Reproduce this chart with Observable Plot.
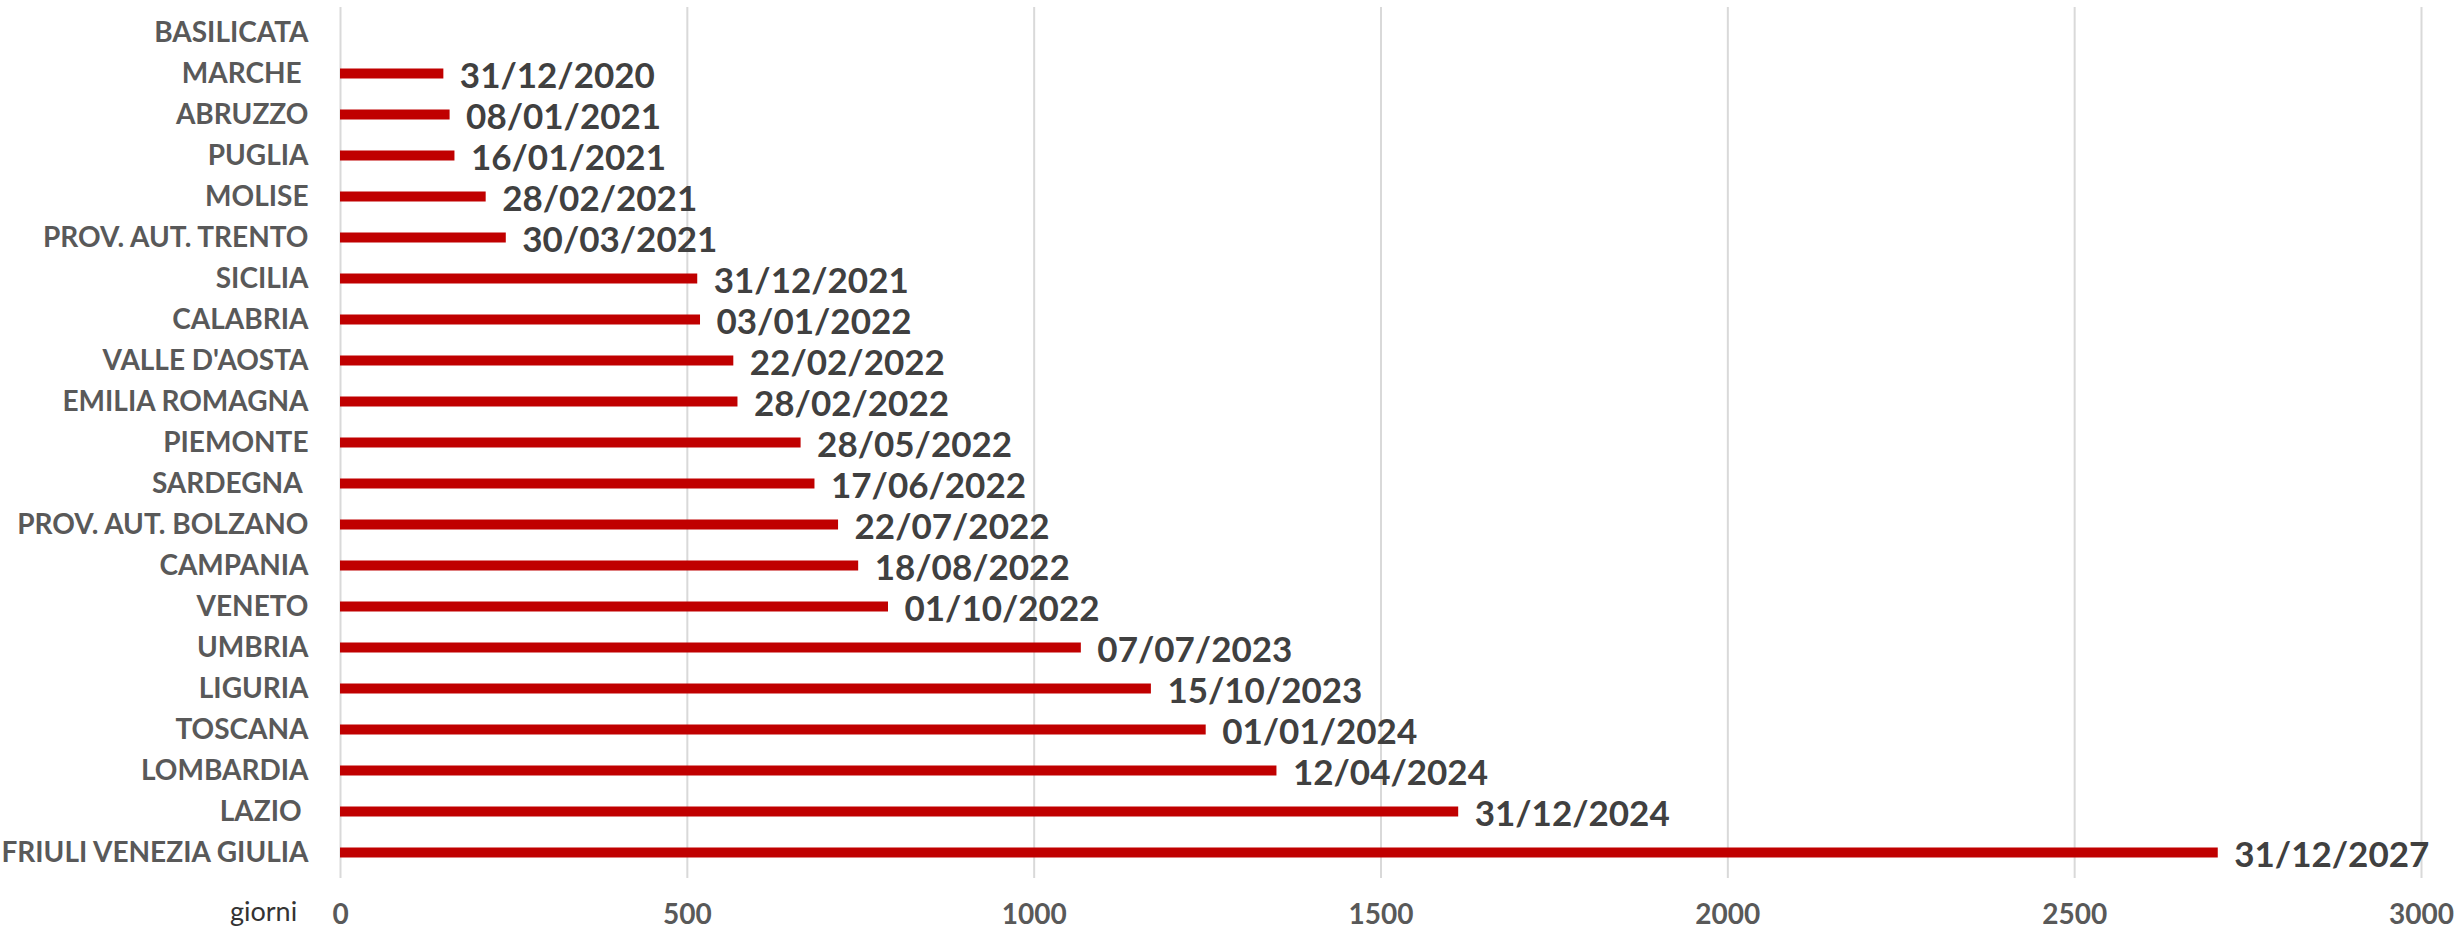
<!DOCTYPE html>
<html>
<head>
<meta charset="utf-8">
<script src="https://cdn.jsdelivr.net/npm/d3@7"></script>
<script src="https://cdn.jsdelivr.net/npm/@observablehq/plot@0.6"></script>
<style>
  html, body { margin: 0; padding: 0; background: #ffffff; }
  #chart svg { display: block; }
</style>
</head>
<body>
<div id="chart"></div>
<script>
const regions = [
  "BASILICATA", "MARCHE\u00a0", "ABRUZZO", "PUGLIA", "MOLISE", "PROV. AUT. TRENTO",
  "SICILIA", "CALABRIA", "VALLE D'AOSTA", "EMILIA ROMAGNA", "PIEMONTE", "SARDEGNA\u00a0",
  "PROV. AUT. BOLZANO", "CAMPANIA", "VENETO", "UMBRIA", "LIGURIA", "TOSCANA",
  "LOMBARDIA", "LAZIO\u00a0", "FRIULI VENEZIA GIULIA"
];
const days = [
  null, 149, 158, 165, 210, 239,
  515, 519, 567, 573, 664, 684,
  718, 747, 790, 1068, 1169, 1248,
  1350, 1612, 2707
];
const dates = [
  "", "31/12/2020", "08/01/2021", "16/01/2021", "28/02/2021", "30/03/2021",
  "31/12/2021", "03/01/2022", "22/02/2022", "28/02/2022", "28/05/2022", "17/06/2022",
  "22/07/2022", "18/08/2022", "01/10/2022", "07/07/2023", "15/10/2023", "01/01/2024",
  "12/04/2024", "31/12/2024", "31/12/2027"
];
const xTicks = [0, 500, 1000, 1500, 2000, 2500, 3000];
const axisTitle = ["giorni"];

const data = regions.map((r, i) => ({region: r, days: days[i], date: dates[i]}));
const bars = data.filter(d => d.days != null);

const FONT = "Lato, 'Open Sans', sans-serif";

const chart = Plot.plot({
  width: 2455,
  height: 931,
  marginLeft: 340,
  marginRight: 34,
  marginTop: 7,
  marginBottom: 53,
  style: {fontFamily: FONT, background: "#ffffff"},
  x: {domain: [0, 3000]},
  y: {domain: regions, padding: 0},
  marks: [
    Plot.gridX(xTicks, {stroke: "#d9d9d9", strokeOpacity: 1, strokeWidth: 2}),
    Plot.barX(bars, {x: "days", y: "region", fill: "#C00000", insetTop: 15.5, insetBottom: 15.5}),
    Plot.text(bars, {
      x: "days", y: "region", text: "date", textAnchor: "start", dx: 16, dy: 3,
      fontSize: 35, fontWeight: "bold", fill: "#404040"
    }),
    Plot.axisX({
      ticks: xTicks, tickSize: 0, tickPadding: 26, fontSize: 28, fontWeight: "bold",
      fill: "#595959", label: null, tickFormat: d => String(d)
    }),
    Plot.axisY({
      tickSize: 0, tickPadding: 32, fontSize: 28, fontWeight: "bold",
      fill: "#595959", label: null
    }),
    Plot.text(axisTitle, {
      text: d => d, frameAnchor: "bottom-left", dx: -77, dy: 42,
      fontSize: 27, fill: "#333333", textAnchor: "middle"
    })
  ]
});
document.getElementById("chart").appendChild(chart);
</script>
</body>
</html>
